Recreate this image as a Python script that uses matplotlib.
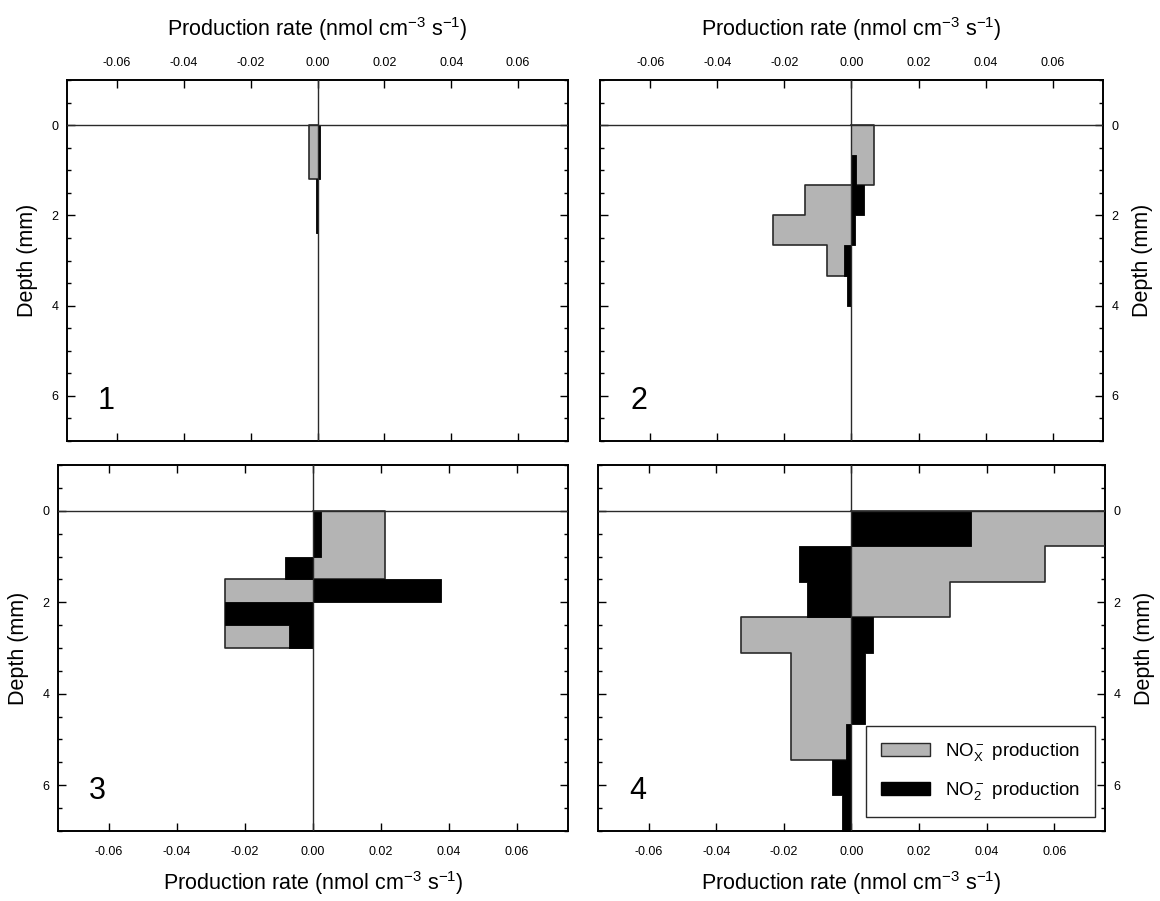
import numpy as np
import matplotlib
matplotlib.use("Agg")
import matplotlib.pyplot as plt
from matplotlib.patches import Patch
from matplotlib.ticker import MultipleLocator

plt.rcParams.update({
    "font.family": ["Liberation Sans", "DejaVu Sans"],
    "mathtext.default": "regular",
    "axes.linewidth": 1.4,
})

# Depth bin edges (mm) and production rates (nmol cm-3 s-1) per panel
edges_1 = [0.0, 1.2, 2.4]
nox_1 = [-0.0025, 0.0]
no2_1 = [0.0006, -0.0006]

edges_2 = [0.0, 0.667, 1.333, 2.0, 2.667, 3.333, 4.0]
nox_2 = [0.0068, 0.0068, -0.0139, -0.0234, -0.0072, 0.0]
no2_2 = [0.0, 0.0013, 0.0036, 0.0012, -0.0022, -0.0012]

edges_3 = [0.0, 0.5, 1.0, 1.5, 2.0, 2.5, 3.0]
nox_3 = [0.0212, 0.0212, 0.0212, -0.0259, -0.0259, -0.0259]
no2_3 = [0.0023, 0.0023, -0.0082, 0.0377, -0.0259, -0.0071]

edges_4 = [0.0, 0.78, 1.56, 2.33, 3.11, 3.89, 4.67, 5.44, 6.22, 7.0]
nox_4 = [0.09, 0.0573, 0.0293, -0.0327, -0.0179, -0.0179, -0.0179, 0.0, 0.0]
no2_4 = [0.0353, -0.0154, -0.0132, 0.0065, 0.0041, 0.0041, -0.0016, -0.0058, -0.0027]

panels = [
    ("1", edges_1, nox_1, no2_1),
    ("2", edges_2, nox_2, no2_2),
    ("3", edges_3, nox_3, no2_3),
    ("4", edges_4, nox_4, no2_4),
]

GRAY = "#b4b4b4"
EDGE = "#2a2a2a"
XLABEL = "Production rate (nmol cm$^{-3}$ s$^{-1}$)"

# axes rectangles [left, bottom, width, height] in figure fraction
rects = [
    [0.0578, 0.5105, 0.432, 0.4007],
    [0.5172, 0.5105, 0.4336, 0.4007],
    [0.0500, 0.0777, 0.4397, 0.4062],
    [0.5155, 0.0777, 0.4370, 0.4062],
]


def step_xy(edges, vals):
    y = np.repeat(edges, 2)[1:-1]
    x = np.repeat(vals, 2)
    return x, y


fig = plt.figure(figsize=(11.6, 9.01), dpi=100)

for i, (name, edges, nox, no2) in enumerate(panels):
    ax = fig.add_axes(rects[i])
    ax.set_xlim(-0.075, 0.075)
    ax.set_ylim(7, -1)

    # NOx- production (gray, outlined step profile)
    x, y = step_xy(edges, nox)
    ax.fill_betweenx(y, 0, x, color=GRAY, lw=0, zorder=2)
    ax.plot(np.r_[0, x, 0], np.r_[edges[0], y, edges[-1]], color=EDGE, lw=1.2, zorder=3)

    # NO2- production (black)
    x, y = step_xy(edges, no2)
    ax.fill_betweenx(y, 0, x, color="black", lw=0.6, edgecolor="black", zorder=4)

    ax.axhline(0, color=EDGE, lw=1.0, zorder=5)
    ax.axvline(0, color=EDGE, lw=1.0, zorder=5)

    ax.xaxis.set_major_locator(MultipleLocator(0.02))
    ax.yaxis.set_major_locator(MultipleLocator(2))
    ax.yaxis.set_minor_locator(MultipleLocator(0.5))
    ax.xaxis.set_major_formatter(plt.FuncFormatter(lambda v, p: f"{v:.2f}"))
    ax.tick_params(which="both", direction="in", top=True, bottom=True,
                   left=True, right=True, width=1.0)
    ax.tick_params(which="major", length=6)
    ax.tick_params(which="minor", length=3)
    ax.tick_params(axis="y", labelsize=9, pad=6)

    top_row = i < 2
    ax.tick_params(axis="x", labelsize=9, pad=8 if top_row else 11,
                   labeltop=top_row, labelbottom=not top_row)
    if top_row:
        ax.xaxis.set_label_position("top")
        ax.set_xlabel(XLABEL, fontsize=15.5, labelpad=15)
    else:
        ax.set_xlabel(XLABEL, fontsize=15.5, labelpad=8)

    right_col = i % 2 == 1
    ax.tick_params(axis="y", labelleft=not right_col, labelright=right_col)
    if right_col:
        ax.yaxis.set_label_position("right")
    ax.set_ylabel("Depth (mm)", fontsize=15.5, labelpad=10)

    ax.text(0.078, 0.11, name, transform=ax.transAxes, fontsize=22,
            ha="center", va="center")

    if i == 3:
        handles = [Patch(facecolor=GRAY, edgecolor=EDGE, lw=1.0),
                   Patch(facecolor="black", edgecolor="black")]
        labels = ["NO$_X^-$ production", "NO$_2^-$ production"]
        leg = ax.legend(handles, labels, loc="lower right",
                        bbox_to_anchor=(0.98, 0.038), borderaxespad=0,
                        fontsize=13.5, handlelength=2.6, handleheight=0.7,
                        labelspacing=0.9, fancybox=False, framealpha=1,
                        edgecolor=EDGE, borderpad=0.8, handletextpad=0.8)
        leg.get_frame().set_linewidth(1.0)
        leg.set_zorder(10)

fig.savefig("out.png", dpi=100, facecolor="white")
